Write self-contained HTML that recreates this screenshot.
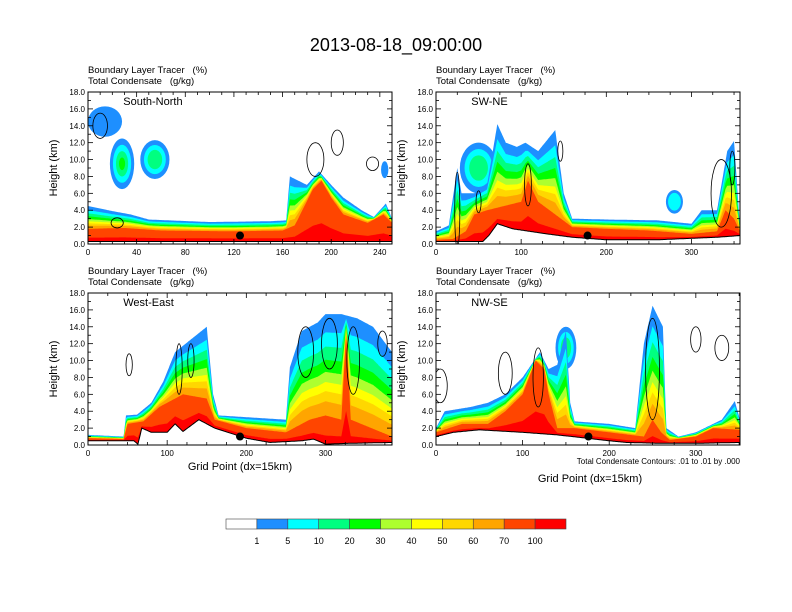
<!DOCTYPE html>
<html><head><meta charset="utf-8"><style>
body{margin:0;background:#fff}
svg{display:block;font-family:"Liberation Sans",sans-serif}
text{white-space:pre}
</style></head><body>
<svg id="chart" width="792" height="612" viewBox="0 0 792 612" xmlns="http://www.w3.org/2000/svg">
<rect width="792" height="612" fill="#fff"/>
<text x="396" y="51" font-size="18" text-anchor="middle">2013-08-18_09:00:00</text>
<text x="240" y="470" font-size="11" text-anchor="middle">Grid Point (dx=15km)</text>
<text x="590" y="482" font-size="11" text-anchor="middle">Grid Point (dx=15km)</text>
<text x="740" y="464" font-size="8" text-anchor="end">Total Condensate Contours: .01 to .01 by .000</text>
<g id="panels"></g>
<g id="cbar"></g>
</svg>
<script>
const colors=["#ffffff","#1e8fff","#00ffff","#00ff80","#00ff00","#adff2f","#ffff00","#ffd700","#ffa500","#ff4500","#ff0000"];
const cbarLabels=["1","5","10","20","30","40","50","60","70","100"];
const panelNames=["South-North","SW-NE","West-East","NW-SE"];
const xMaxes=[250,357,384,351];
const xTickSteps=[40,100,100,100];
// terrain heights (km) [grid, km]
const terrain1=[[0,0.3],[120,0.3],[250,0.3]];
const terrain2=[[0,0.3],[40,0.3],[55,0.3],[62,1.0],[72,2.4],[90,1.8],[110,1.5],[130,1.2],[160,0.8],[200,0.5],[260,0.5],[330,0.8],[357,1.0]];
const terrain3=[[0,0.5],[58,0.5],[63,0.1],[68,2.0],[80,1.5],[100,1.5],[110,2.5],[120,1.6],[140,3.0],[160,2.0],[180,1.4],[200,0.8],[230,0.3],[270,0.5],[285,0.7],[300,0.1],[330,0.2],[384,0.3]];
const terrain4=[[0,1.0],[20,1.5],[50,1.8],[100,1.5],[140,1.2],[200,0.5],[220,0.3],[260,0.2],[300,0.2],[351,0.3]];
// boundary-layer (orange) top heights
const redTop1=[[0,1.8],[30,1.9],[60,1.6],[120,1.5],[160,1.6],[170,2.2],[185,6.5],[192,7.5],[200,5.5],[210,3.5],[230,2.5],[243,3.5],[250,2.5]];
const redTop2=[[0,0.5],[20,0.6],[35,1.5],[45,3.5],[60,4.0],[80,4.5],[100,5.0],[108,7.5],[120,5.0],[140,3.5],[160,2.0],[200,1.8],[250,1.6],[300,1.2],[330,1.5],[340,4.0],[350,3.0],[357,1.5]];
const redTop3=[[0,0.8],[45,0.7],[50,2.5],[70,2.8],[90,4.5],[120,6.0],[150,5.5],[160,3.0],[200,2.0],[250,1.5],[280,3.0],[300,3.5],[320,3.0],[326,13],[332,3.0],[384,1.0]];
const redTop4=[[0,1.5],[30,2.5],[60,2.5],[80,4.0],[100,6.0],[115,10],[125,9.0],[130,6.0],[140,2.0],[160,2.0],[200,1.5],[240,1.0],[250,3.0],[260,1.5],[270,0.6],[300,1.0],[320,2.0],[351,1.8]];
// outer tracer (blue) top heights
const topH1=[[0,4.5],[20,3.9],[35,3.5],[50,2.9],[100,2.6],[150,2.7],[163,2.8],[166,8.0],[180,7.0],[190,8.6],[200,7.0],[210,5.5],[225,4.0],[235,3.2],[245,4.8],[250,3.0]];
const topH2=[[0,1.5],[15,2.2],[25,9.0],[30,6.0],[45,6.0],[60,7.0],[72,14.2],[82,12],[95,11.5],[105,12],[120,11],[140,13.5],[150,6.0],[160,3.0],[200,2.9],[260,2.8],[300,2.4],[312,4.0],[330,4.0],[342,11],[350,12.2],[357,2.0]];
const topH3=[[0,1.2],[45,1.0],[48,3.5],[62,3.6],[80,5.0],[95,7.5],[110,11],[130,12.5],[150,14],[158,6.0],[165,3.5],[250,3.0],[255,9.2],[270,13.5],[290,14.5],[300,15.5],[320,15.5],[340,15],[360,14],[384,11]];
const topH4=[[0,2.0],[10,4.0],[40,4.5],[60,5.0],[80,6.0],[100,8.0],[120,11],[130,9.0],[140,9.5],[150,13.5],[155,5.0],[160,2.8],[200,2.5],[230,2.0],[240,12],[250,16.5],[262,14],[266,2.0],[280,1.0],[300,1.5],[330,3.0],[345,5.2],[351,3.0]];
// cloud blobs [x, km, rx(grid), ry(km), max level]
const clouds1=[[14,14.5,14,1.8,1],[28,9.5,10,3,4],[55,10,12,2.3,3],[244,8.8,3,1,1]];
const clouds2=[[280,5,10,1.4,2],[50,9,22,3,3]];
const clouds3=[];
const clouds4=[[150,11.5,12,2.5,3]];
// black condensate contours [x, km, rx, ry]
const cont1=[[10,14,6,1.5],[187,10,7,2],[205,12,5,1.5],[234,9.5,5,0.8],[24,2.5,5,0.6]];
const cont2=[[25,4,3,4.5],[50,5,3,1.3],[108,7,4,2.5],[146,11,3,1.2],[335,6,12,4],[348,9,3,2]];
const cont3=[[52,9.5,4,1.3],[115,9,4,3],[130,10,4,2],[275,11,10,3],[305,12,10,3],[335,10,8,4],[372,12,6,1.5]];
const cont4=[[5,7,8,2],[80,8.5,8,2.5],[118,8,6,3.5],[250,9,8,6],[300,12.5,6,1.5],[330,11.5,8,1.5]];
const dots=[[125,1.0],[178,1.0],[192,1.0],[176,1.0]];
const panels=[
 {x:88,y:92,w:304,h:152,t:terrain1,r:redTop1,b:topH1,c:clouds1,k:cont1},
 {x:436,y:92,w:304,h:152,t:terrain2,r:redTop2,b:topH2,c:clouds2,k:cont2},
 {x:88,y:293,w:304,h:152,t:terrain3,r:redTop3,b:topH3,c:clouds3,k:cont3},
 {x:436,y:293,w:304,h:152,t:terrain4,r:redTop4,b:topH4,c:clouds4,k:cont4}];
const NS="http://www.w3.org/2000/svg";
function mk(tag,attrs,parent){const e=document.createElementNS(NS,tag);for(const k in attrs)e.setAttribute(k,attrs[k]);parent.appendChild(e);return e;}
function interp(arr,x){for(let i=0;i<arr.length-1;i++){if(x>=arr[i][0]&&x<=arr[i+1][0]){const f=(x-arr[i][0])/(arr[i+1][0]-arr[i][0]);return arr[i][1]+f*(arr[i+1][1]-arr[i][1]);}}return arr[arr.length-1][1];}
const root=document.getElementById('panels');
panels.forEach((p,pi)=>{
 const xMax=xMaxes[pi];
 const sx=v=>p.x+v/xMax*p.w, sy=v=>p.y+p.h-v/18*p.h;
 const g=mk('g',{},root);
 
 
 const cp=mk('clipPath',{id:'cp'+pi},g);
 mk('rect',{x:p.x,y:p.y,width:p.w,height:p.h},cp);
 const plot=mk('g',{'clip-path':'url(#cp'+pi+')'},g);
 const xs=[];for(let v=0;v<=xMax;v+=1)xs.push(v);
 p.c.forEach(c=>{for(let k=1;k<=c[4];k++){const s=1-(k-1)*0.25;const e=mk('ellipse',{cx:sx(c[0]),cy:sy(c[1]),rx:c[2]/xMax*p.w*s,ry:c[3]/18*p.h*s,fill:colors[k]},plot);}});
 const lvls=[[1,1.0],[2,0.82],[3,0.68],[4,0.55],[5,0.43],[6,0.33],[7,0.24],[8,0.14],[9,0.0]];
 lvls.forEach(([ci,f])=>{
  let d='';xs.forEach((v,i)=>{const r=interp(p.r,v),b=Math.max(interp(p.b,v),r);const h=r+f*(b-r);d+=(i?'L':'M')+sx(v).toFixed(1)+','+sy(h).toFixed(1);});
  d+='L'+sx(xMax)+','+sy(0)+'L'+sx(0)+','+sy(0)+'Z';
  const e=mk('path',{d:d,fill:colors[ci]},plot);
 });
 let d='';xs.forEach((v,i)=>{const t=interp(p.t,v),r=interp(p.r,v);d+=(i?'L':'M')+sx(v).toFixed(1)+','+sy(t+0.3*(r-t)).toFixed(1);});
 d+='L'+sx(xMax)+','+sy(0)+'L'+sx(0)+','+sy(0)+'Z';
 let e=mk('path',{d:d,fill:colors[10]},plot);
 d='';xs.forEach((v,i)=>{d+=(i?'L':'M')+sx(v).toFixed(1)+','+sy(interp(p.t,v)).toFixed(1);});
 const tl=d;d+='L'+sx(xMax)+','+sy(0)+'L'+sx(0)+','+sy(0)+'Z';
 e=mk('path',{d:d,fill:'#fff'},plot);
 mk('path',{d:tl,fill:'none',stroke:'#000','stroke-width':1},plot);
 p.k.forEach(c=>{const q=mk('ellipse',{cx:sx(c[0]),cy:sy(c[1]),rx:c[2]/xMax*p.w,ry:c[3]/18*p.h,fill:'none',stroke:'#000','stroke-width':0.8},plot);});
 e=mk('circle',{cx:sx(dots[pi][0]),cy:sy(dots[pi][1]),r:4,fill:'#000'},plot);
 mk('rect',{x:p.x,y:p.y,width:p.w,height:p.h,fill:'none',stroke:'#000','stroke-width':1},g);
 for(let v=0;v<=18;v+=1){const y=sy(v),L=v%2?3:5;
  mk('line',{x1:p.x,x2:p.x+L,y1:y,y2:y,stroke:'#000','stroke-width':0.8},g);
  mk('line',{x1:p.x+p.w,x2:p.x+p.w-L,y1:y,y2:y,stroke:'#000','stroke-width':0.8},g);
  if(v%2===0){const t=mk('text',{x:p.x-3,y:y+3,'font-size':8,'text-anchor':'end'},g);t.textContent=v.toFixed(1);}}
 for(let v=0;v<=xMax;v+=xTickSteps[pi]/4){const x=sx(v),maj=(v%xTickSteps[pi]===0),L=maj?5:3;
  mk('line',{x1:x,x2:x,y1:p.y+p.h,y2:p.y+p.h-L,stroke:'#000','stroke-width':0.8},g);
  mk('line',{x1:x,x2:x,y1:p.y,y2:p.y+L,stroke:'#000','stroke-width':0.8},g);
  if(maj){const t=mk('text',{x:x,y:p.y+p.h+11,'font-size':8,'text-anchor':'middle'},g);t.textContent=v;}}
 let t=mk('text',{x:p.x-31,y:p.y+p.h/2,'font-size':11,'text-anchor':'middle',transform:'rotate(-90 '+(p.x-31)+' '+(p.y+p.h/2)+')'},g);t.textContent='Height (km)';
 t=mk('text',{x:p.x,y:p.y-19,'font-size':9.5},g);t.textContent='Boundary Layer Tracer   (%)';
 t=mk('text',{x:p.x,y:p.y-8,'font-size':9.5},g);t.textContent='Total Condensate   (g/kg)';
 t=mk('text',{x:p.x+p.w*0.116,y:p.y+13,'font-size':11},g);t.textContent=panelNames[pi];
});
const cb=document.getElementById('cbar');const bw=340/11;
colors.forEach((c,i)=>{const r=mk('rect',{x:226+i*bw,y:519,width:bw,height:10,fill:c,stroke:'#444','stroke-width':0.6},cb);});
cbarLabels.forEach((l,i)=>{const t=mk('text',{x:226+(i+1)*bw,y:544,'font-size':9,'text-anchor':'middle'},cb);t.textContent=l;});
</script>
</body></html>
